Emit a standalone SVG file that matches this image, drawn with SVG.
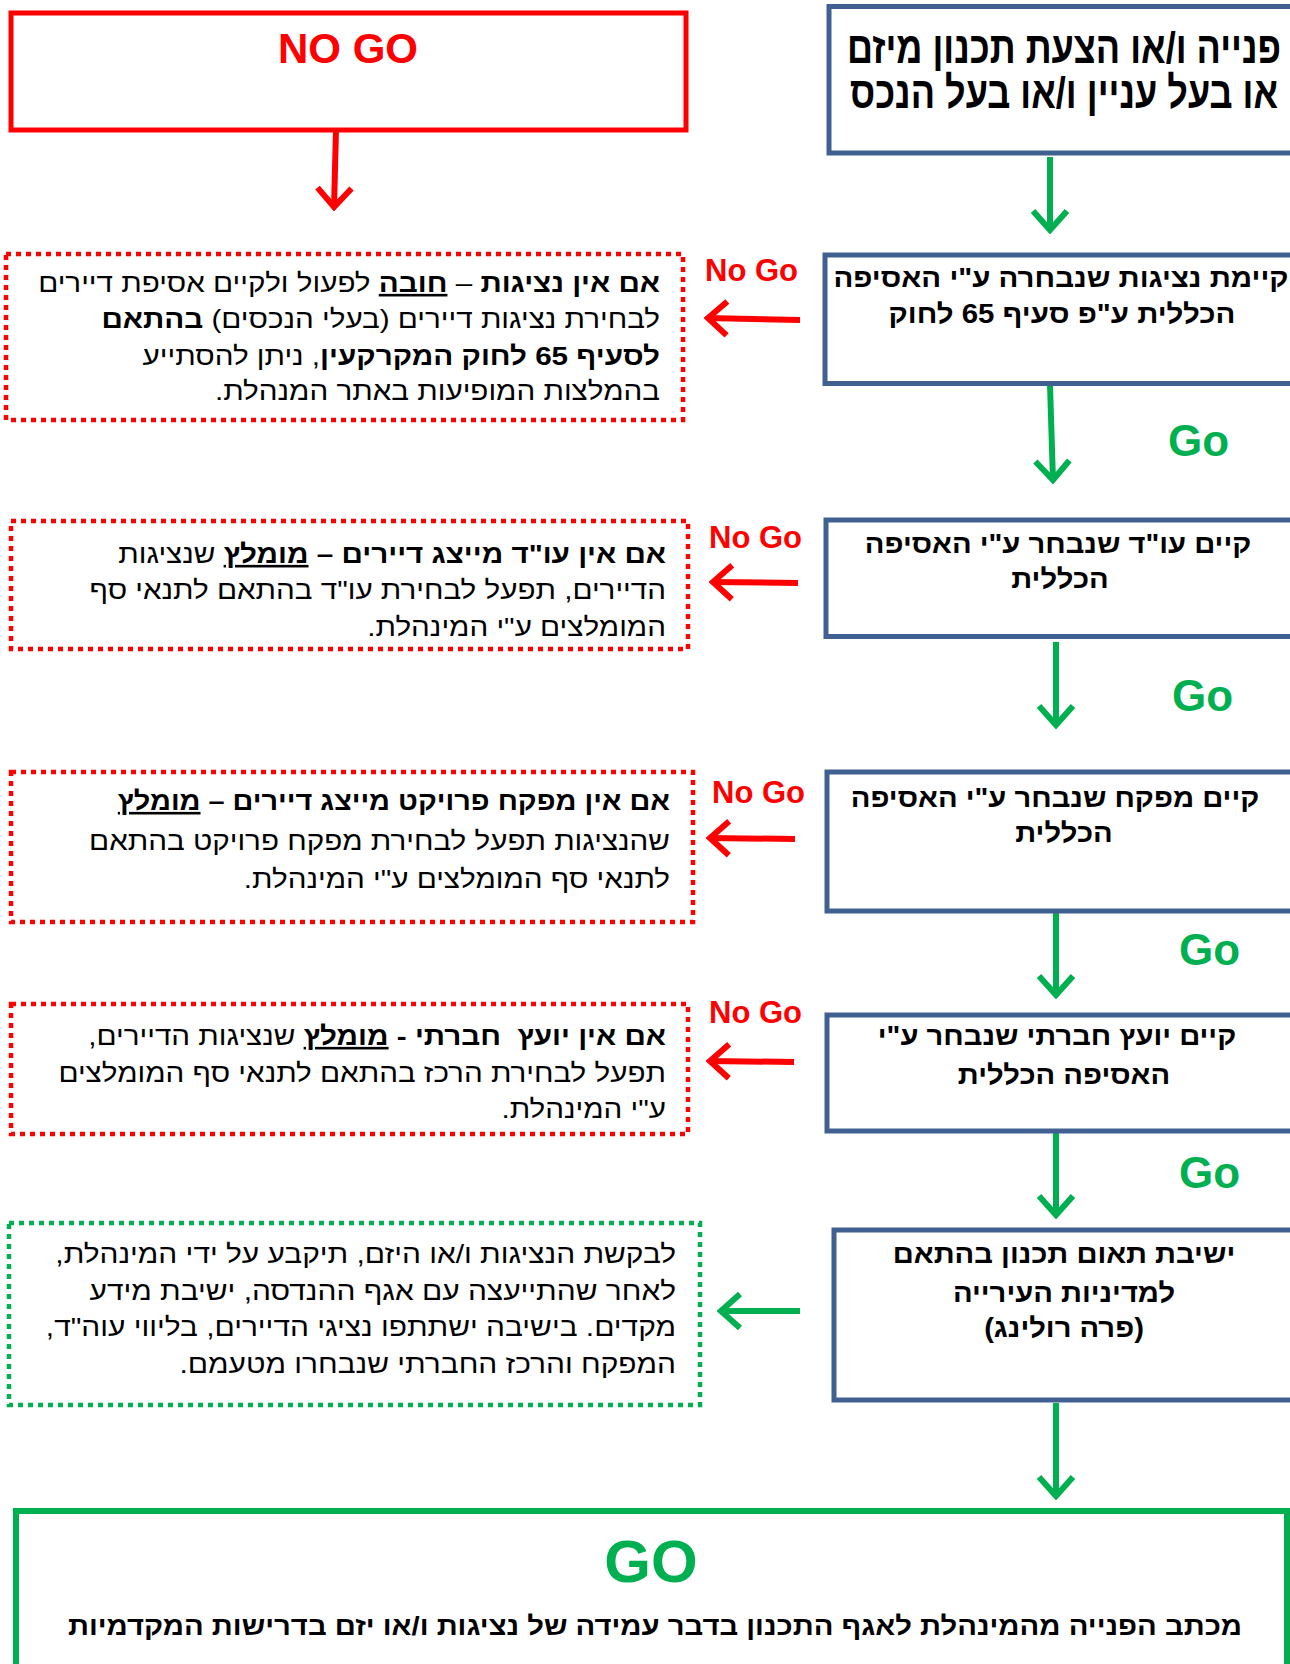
<svg xmlns="http://www.w3.org/2000/svg" width="1290" height="1664" viewBox="0 0 1290 1664">
<defs>
<style>
.t{font-family:"Liberation Sans",Arial,"DejaVu Sans",sans-serif;fill:#000}
.b{font-weight:bold}
.rb{stroke:#3F6090;stroke-width:5;fill:#fff}
.rd{stroke:#FF0000;stroke-width:4.5;stroke-dasharray:5 5;fill:none}
.gd{stroke:#00B050;stroke-width:4.5;stroke-dasharray:5 5;fill:none}
.rs{stroke:#FF0000;stroke-width:5;fill:none}
.gs{stroke:#00B050;stroke-width:6;fill:none}
.ra{stroke:#FF0000;stroke-width:6;fill:none}
.ga{stroke:#00B050;stroke-width:6;fill:none}
.box{font-size:27px;font-weight:bold}
.dt{font-size:26px}
.ng{font-family:"Liberation Sans",Arial,sans-serif;font-size:31px;font-weight:bold;fill:#FF0000}
.go{font-family:"Liberation Sans",Arial,sans-serif;font-size:44px;font-weight:bold;fill:#00B050}
</style>
<marker id="arR" viewBox="0 0 26 40" refX="23" refY="20" markerWidth="26" markerHeight="40" markerUnits="userSpaceOnUse" orient="auto">
<path d="M3,3 L22,20 L3,37" fill="none" stroke="#FF0000" stroke-width="6"/>
</marker>
<marker id="arG" viewBox="0 0 26 40" refX="23" refY="20" markerWidth="26" markerHeight="40" markerUnits="userSpaceOnUse" orient="auto">
<path d="M3,3 L22,20 L3,37" fill="none" stroke="#00B050" stroke-width="6"/>
</marker>
</defs>
<rect width="1290" height="1664" fill="#fff"/>

<g id="connectors">
<path class="ra" d="M336,130 L334,208" marker-end="url(#arR)"/>
<path class="ga" d="M1050,157 L1050,231" marker-end="url(#arG)"/>
<path class="ga" d="M1050,385 L1053,481" marker-end="url(#arG)"/>
<path class="ga" d="M1056,642 L1056,726" marker-end="url(#arG)"/>
<path class="ga" d="M1056,913 L1056,996" marker-end="url(#arG)"/>
<path class="ga" d="M1056,1133 L1056,1216" marker-end="url(#arG)"/>
<path class="ga" d="M1056,1403 L1056,1497" marker-end="url(#arG)"/>
<path class="ra" d="M800,320 L707,318" marker-end="url(#arR)"/>
<path class="ra" d="M798,583 L712,582" marker-end="url(#arR)"/>
<path class="ra" d="M795,839 L709,838" marker-end="url(#arR)"/>
<path class="ra" d="M794,1062 L709,1061" marker-end="url(#arR)"/>
<path class="ga" d="M800,1311 L720,1311" marker-end="url(#arG)"/>
<text class="ng" x="705" y="281">No Go</text>
<text class="ng" x="709" y="548">No Go</text>
<text class="ng" x="712" y="803">No Go</text>
<text class="ng" x="709" y="1023">No Go</text>
<text class="go" x="1168" y="456">Go</text>
<text class="go" x="1172" y="711">Go</text>
<text class="go" x="1179" y="965">Go</text>
<text class="go" x="1179" y="1188">Go</text>
</g>

<g id="nogo-top">
<rect class="rs" x="11" y="13" width="675" height="117"/>
<text x="348" y="63" text-anchor="middle" font-family="Liberation Sans,Arial,sans-serif" font-size="42" font-weight="bold" fill="#FF0000">NO GO</text>
</g>

<g id="box-start">
<rect class="rb" x="829" y="6.5" width="471" height="146.5"/>
<text class="t b" transform="translate(1064,63) scale(0.82,1)" text-anchor="middle" font-size="44">פנייה ו/או הצעת תכנון מיזם</text>
<text class="t b" transform="translate(1064,108) scale(0.82,1)" text-anchor="middle" font-size="44">או בעל עניין ו/או בעל הנכס</text>
</g>

<g id="box-nezigut">
<rect class="rb" x="825" y="255" width="475" height="128.5"/>
<text class="t box" transform="translate(1061,287) scale(1.09,1)" text-anchor="middle">קיימת נציגות שנבחרה ע"י האסיפה</text>
<text class="t box" transform="translate(1062,323) scale(1.09,1)" text-anchor="middle">הכללית ע"פ סעיף 65 לחוק</text>
</g>

<g id="box-lawyer">
<rect class="rb" x="826" y="520" width="474" height="116.5"/>
<text class="t box" transform="translate(1058,553) scale(1.08,1)" text-anchor="middle">קיים עו"ד שנבחר ע"י האסיפה</text>
<text class="t box" transform="translate(1060,588) scale(1.08,1)" text-anchor="middle">הכללית</text>
</g>

<g id="box-supervisor">
<rect class="rb" x="827" y="772" width="473" height="139"/>
<text class="t box" transform="translate(1055,807) scale(1.08,1)" text-anchor="middle">קיים מפקח שנבחר ע"י האסיפה</text>
<text class="t box" transform="translate(1064,842) scale(1.08,1)" text-anchor="middle">הכללית</text>
</g>

<g id="box-social">
<rect class="rb" x="827" y="1015" width="473" height="116"/>
<text class="t box" transform="translate(1057,1045) scale(1.08,1)" text-anchor="middle">קיים יועץ חברתי שנבחר ע"י</text>
<text class="t box" transform="translate(1064,1084) scale(1.08,1)" text-anchor="middle">האסיפה הכללית</text>
</g>

<g id="box-meeting">
<rect class="rb" x="834" y="1230" width="466" height="170"/>
<text class="t box" transform="translate(1064,1263) scale(1.08,1)" text-anchor="middle">ישיבת תאום תכנון בהתאם</text>
<text class="t box" transform="translate(1064,1302) scale(1.08,1)" text-anchor="middle">למדיניות העירייה</text>
<text class="t box" transform="translate(1064,1337) scale(1.08,1)" text-anchor="middle">(פרה רולינג)</text>
</g>

<g id="nogo-nezigut">
<rect class="rd" x="6" y="254" width="677" height="166"/>
<text class="t dt" transform="translate(660,292) scale(1.14,1)" direction="rtl" text-anchor="start"><tspan class="b">אם אין נציגות</tspan> – <tspan class="b" text-decoration="underline">חובה</tspan> לפעול ולקיים אסיפת דיירים</text>
<text class="t dt" transform="translate(660,328) scale(1.14,1)" direction="rtl" text-anchor="start">לבחירת נציגות דיירים (בעלי הנכסים) <tspan class="b">בהתאם</tspan></text>
<text class="t dt" transform="translate(660,365) scale(1.14,1)" direction="rtl" text-anchor="start"><tspan class="b">לסעיף 65 לחוק המקרקעין</tspan>, ניתן להסתייע</text>
<text class="t dt" transform="translate(660,400) scale(1.14,1)" direction="rtl" text-anchor="start">בהמלצות המופיעות באתר המנהלת.</text>
</g>

<g id="nogo-lawyer">
<rect class="rd" x="11" y="521" width="677" height="128"/>
<text class="t dt" transform="translate(666,563) scale(1.14,1)" direction="rtl" text-anchor="start"><tspan class="b">אם אין עו"ד מייצג דיירים – </tspan><tspan class="b" text-decoration="underline">מומלץ</tspan> שנציגות</text>
<text class="t dt" transform="translate(666,599) scale(1.14,1)" direction="rtl" text-anchor="start">הדיירים, תפעל לבחירת עו"ד בהתאם לתנאי סף</text>
<text class="t dt" transform="translate(666,636) scale(1.14,1)" direction="rtl" text-anchor="start">המומלצים ע"י המינהלת.</text>
</g>

<g id="nogo-supervisor">
<rect class="rd" x="11" y="772" width="682" height="150"/>
<text class="t dt" transform="translate(670,810) scale(1.11,1)" direction="rtl" text-anchor="start"><tspan class="b">אם אין מפקח פרויקט מייצג דיירים – </tspan><tspan class="b" text-decoration="underline">מומלץ</tspan></text>
<text class="t dt" transform="translate(670,850) scale(1.14,1)" direction="rtl" text-anchor="start">שהנציגות תפעל לבחירת מפקח פרויקט בהתאם</text>
<text class="t dt" transform="translate(670,888) scale(1.14,1)" direction="rtl" text-anchor="start">לתנאי סף המומלצים ע"י המינהלת.</text>
</g>

<g id="nogo-social">
<rect class="rd" x="11" y="1004" width="677" height="130"/>
<text class="t dt" transform="translate(666,1045) scale(1.14,1)" direction="rtl" text-anchor="start"><tspan class="b">אם אין יועץ&#160; חברתי - </tspan><tspan class="b" text-decoration="underline">מומלץ</tspan> שנציגות הדיירים,</text>
<text class="t dt" transform="translate(666,1082) scale(1.14,1)" direction="rtl" text-anchor="start">תפעל לבחירת הרכז בהתאם לתנאי סף המומלצים</text>
<text class="t dt" transform="translate(666,1118) scale(1.14,1)" direction="rtl" text-anchor="start">ע"י המינהלת.</text>
</g>

<g id="info-meeting">
<rect class="gd" x="9" y="1223" width="691" height="182"/>
<text class="t dt" transform="translate(676,1263) scale(1.15,1)" direction="rtl" text-anchor="start">לבקשת הנציגות ו/או היזם, תיקבע על ידי המינהלת,</text>
<text class="t dt" transform="translate(676,1300) scale(1.15,1)" direction="rtl" text-anchor="start">לאחר שהתייעצה עם אגף ההנדסה, ישיבת מידע</text>
<text class="t dt" transform="translate(676,1336) scale(1.15,1)" direction="rtl" text-anchor="start">מקדים. בישיבה ישתתפו נציגי הדיירים, בליווי עוה"ד,</text>
<text class="t dt" transform="translate(676,1373) scale(1.15,1)" direction="rtl" text-anchor="start">המפקח והרכז החברתי שנבחרו מטעמם.</text>
</g>

<g id="go-final">
<rect class="gs" x="16" y="1511" width="1271" height="200"/>
<text x="651" y="1582" text-anchor="middle" font-family="Liberation Sans,Arial,sans-serif" font-size="60" font-weight="bold" fill="#00B050">GO</text>
<text class="t b" transform="translate(655,1635) scale(1.125,1)" text-anchor="middle" font-size="26">מכתב הפנייה מהמינהלת לאגף התכנון בדבר עמידה של נציגות ו/או יזם בדרישות המקדמיות</text>
</g>
</svg>
